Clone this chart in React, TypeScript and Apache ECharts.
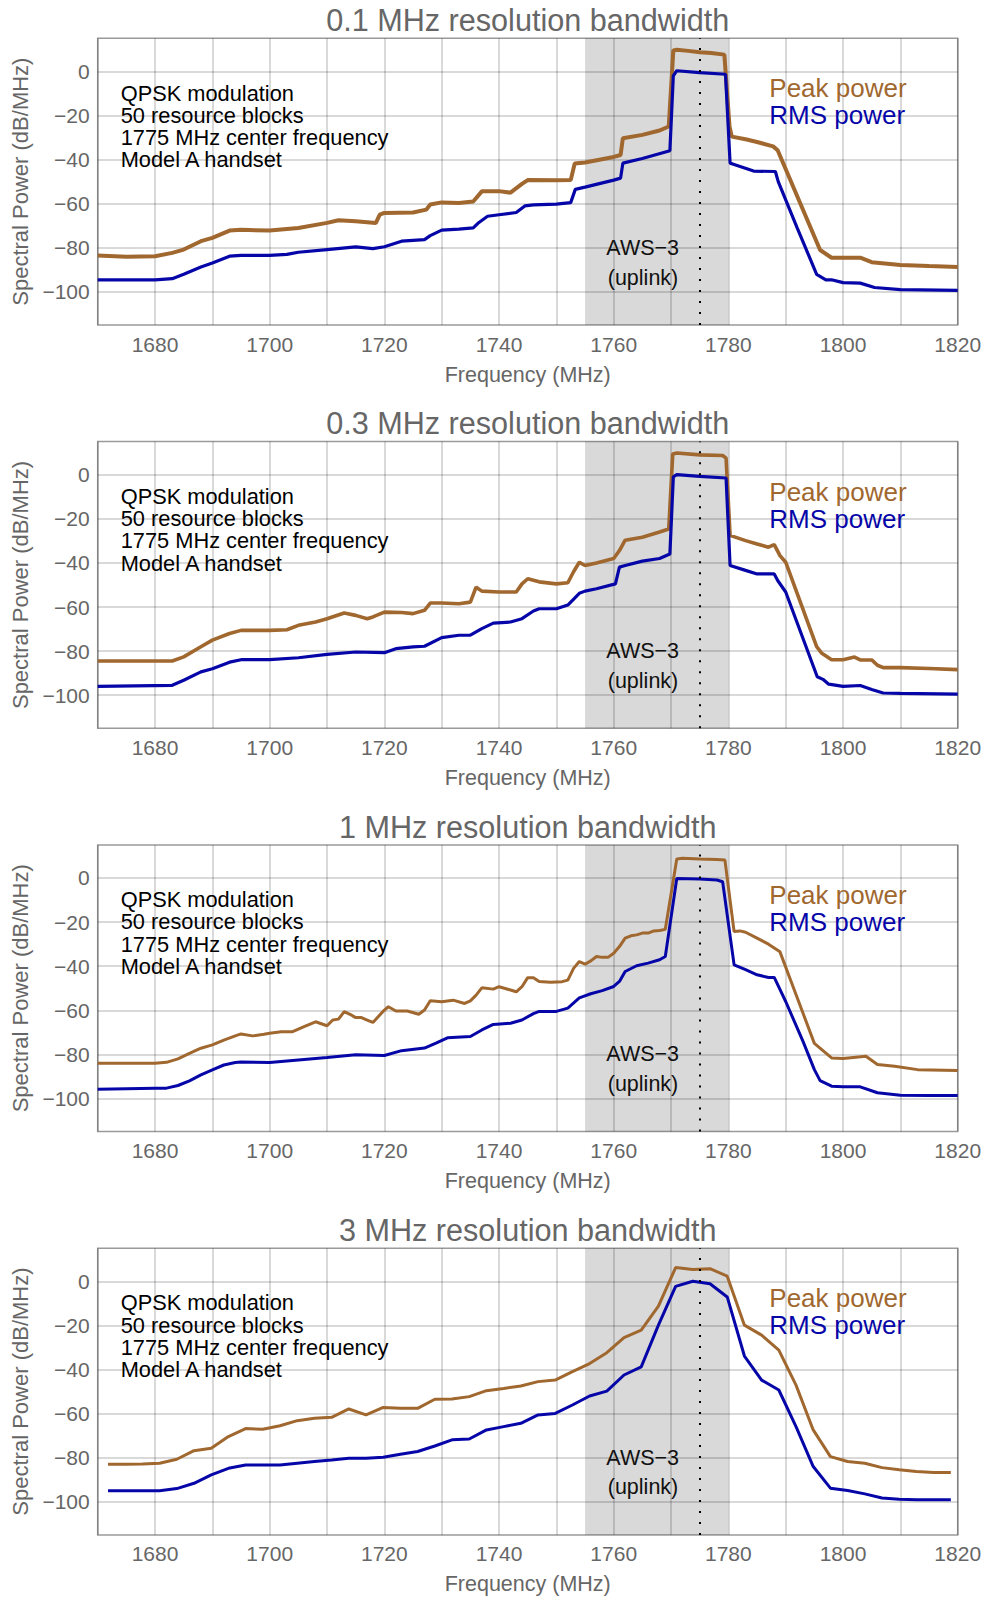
import React, { useEffect, useRef } from "react";
import * as echarts from "echarts";

const FONT = "'Liberation Sans', Arial, sans-serif";
const PEAK_COLOR = "#A0672F";
const RMS_COLOR = "#0606A8";

const TITLES = [
  "0.1 MHz resolution bandwidth",
  "0.3 MHz resolution bandwidth",
  "1 MHz resolution bandwidth",
  "3 MHz resolution bandwidth",
];
const INFO_LINES = ["QPSK modulation", "50 resource blocks", "1775 MHz center frequency", "Model A handset"];
const X_NAME = "Frequency (MHz)";
const Y_NAME = "Spectral Power (dB/MHz)";
const Y_GRID = [0, -20, -40, -60, -80, -100];
const BAND = [1755, 1780];
const CENTER_FREQ = 1775;

// Panel 1: 0.1 MHz RBW  [frequency MHz, dB/MHz]
const p1Peak = [
  [1670, -83.5], [1675, -84], [1680, -83.8], [1683, -82.3], [1685, -80.8], [1688, -77], [1690, -75.5],
  [1693, -72.2], [1695, -71.8], [1700, -72.2], [1705, -71], [1710, -68.7], [1712, -67.5], [1715, -68],
  [1718.5, -68.8], [1719.2, -65], [1720, -64.2], [1725, -64], [1727.3, -62.7], [1728, -60.4], [1730, -59.4],
  [1733, -59.7], [1735.5, -59], [1737, -54.4], [1740, -54.3], [1742, -55], [1744, -51], [1745, -49.3],
  [1750, -49.4], [1752.5, -49.3], [1753.2, -41.8], [1755, -41.3], [1760, -38.8], [1761.2, -37.9],
  [1761.6, -30.3], [1765, -28.8], [1768, -26.8], [1769.6, -25], [1770.4, 9.5], [1771, 9.8], [1773, 9.3],
  [1775, 8.7], [1777, 8.3], [1779.3, 7.6], [1780.2, -25], [1780.6, -29.6], [1783, -30.8], [1785, -32],
  [1787.8, -34], [1788.6, -35.8], [1796, -81], [1798, -84.5], [1800, -84.5], [1803, -84.5], [1805, -86.5],
  [1810, -87.8], [1815, -88.3], [1820, -88.7],
];
const p1Rms = [
  [1670, -94.5], [1680, -94.5], [1683, -94], [1685, -92], [1688, -88.7], [1690, -86.9], [1693, -83.8],
  [1695, -83.4], [1700, -83.4], [1703, -83], [1705, -82], [1710, -80.8], [1715, -79.6], [1718, -80.4],
  [1720, -79.5], [1723, -77], [1727, -76.3], [1728, -74.5], [1730, -72], [1733, -71.5], [1735.5, -71],
  [1736.5, -68.5], [1738, -65.7], [1740, -65], [1743, -64], [1744.5, -61], [1746, -60.5], [1750, -60.2],
  [1752.5, -59.5], [1753.3, -53.5], [1755, -52.5], [1760, -49.3], [1761.2, -48.4], [1761.6, -41.6],
  [1765, -39.5], [1769.8, -36], [1770.4, -2], [1771, 0.3], [1775, -0.6], [1779.5, -1.3], [1780.3, -41.6],
  [1781, -42.2], [1784.4, -45.2], [1788.2, -45.4], [1788.7, -50], [1792, -71], [1795.4, -92],
  [1797, -94.5], [1798, -94.5], [1800, -95.8], [1803, -96], [1805.5, -98], [1810, -99], [1820, -99.3],
];

// Panel 2: 0.3 MHz RBW
const p2Peak = [
  [1670, -84.5], [1683, -84.5], [1685, -82.6], [1688, -78], [1690, -75], [1693, -72], [1695, -70.6],
  [1700, -70.6], [1703, -70.3], [1705, -68.3], [1708, -66.8], [1710, -65.3], [1713, -62.7], [1715, -63.8],
  [1717, -65.3], [1718, -64.5], [1720, -62.3], [1723, -62.5], [1725, -63], [1727, -61.5], [1728, -58.2],
  [1730, -58.2], [1733, -58.5], [1735, -57.8], [1736, -51], [1737, -52.8], [1740, -53.2], [1743, -53.2],
  [1744, -49.5], [1745, -47.2], [1747, -48.6], [1750, -49.5], [1752, -49], [1753, -44], [1754, -39.7],
  [1755, -41.2], [1757, -40], [1760, -38], [1761, -34.4], [1762, -29.7], [1765, -28.4], [1768, -26],
  [1769.6, -24.6], [1770.3, 9.4], [1771, 9.8], [1775, 9], [1779, 8.7], [1779.6, 7.5], [1780.3, -27.5],
  [1783, -29.9], [1785, -31.4], [1787, -32.9], [1788, -31.7], [1789, -36.7], [1790, -39.7],
  [1795.4, -78], [1796.3, -81], [1798, -83.9], [1800, -83.9], [1802, -82.7], [1803, -84], [1805, -84],
  [1806, -86.4], [1807, -87.5], [1810, -87.5], [1815, -87.9], [1820, -88.4],
];
const p2Rms = [
  [1670, -96], [1683, -95.5], [1685, -93.2], [1688, -89.4], [1690, -88], [1693, -85], [1695, -83.9],
  [1700, -83.9], [1705, -83], [1710, -81.5], [1715, -80.4], [1720, -80.7], [1722, -78.9], [1725, -78.1],
  [1727, -77.8], [1730, -73.9], [1733, -72.8], [1735, -72.8], [1737, -69.8], [1739, -67.3], [1742, -66.8],
  [1744, -65.3], [1746, -61.8], [1747, -60.8], [1750, -60.8], [1752, -59.1], [1754, -53.8], [1755, -52.8],
  [1757, -51.7], [1760.3, -49.5], [1761, -41.9], [1762, -41.2], [1765, -39.2], [1768, -38],
  [1769.8, -36], [1770.4, -1], [1771, 0], [1775, -0.8], [1779.6, -1.5], [1780.3, -41.2], [1783, -43.4],
  [1785, -45], [1788, -45], [1788.6, -48], [1790, -53.2], [1795.5, -91.6], [1796.5, -92.8],
  [1797.5, -95], [1800, -96], [1803, -95.6], [1805, -97.4], [1807, -99], [1810, -99.2], [1820, -99.5],
];

// Panel 3: 1 MHz RBW
const p3Peak = [
  [1670, -84], [1680, -84], [1682, -83.6], [1684, -82], [1686, -79.5], [1688, -77.2], [1690, -75.7],
  [1692, -73.5], [1694, -71.6], [1695, -70.7], [1697, -71.6], [1699, -70.9], [1700, -70.4], [1702, -69.7],
  [1704, -69.7], [1706, -67.4], [1708, -65.2], [1710, -67], [1711, -64.4], [1712, -64], [1713, -60.6],
  [1714, -61.8], [1715, -63.3], [1716, -63.3], [1717, -64.4], [1718, -65.5], [1720, -59.9], [1720.7, -58.4],
  [1722, -60.3], [1724, -60.3], [1726, -61.8], [1727, -59.9], [1728, -55.7], [1730, -56.1], [1732, -55.4],
  [1734, -56.9], [1735, -55.7], [1736, -53.1], [1737, -49.8], [1739, -50.4], [1740, -49.3], [1742, -50.8],
  [1743, -51.6], [1744, -49.3], [1745, -45.2], [1746, -45.2], [1747, -46.9], [1749, -47.3], [1751, -47],
  [1752, -46.3], [1753, -41], [1754, -37.9], [1755, -39.1], [1756, -37.6], [1757, -35.6], [1758, -36],
  [1759, -36], [1760, -34.1], [1761, -31.1], [1762, -27.3], [1763, -26.2], [1764, -25.8], [1765, -25],
  [1766, -25], [1767, -24], [1768, -23.8], [1769, -23.3], [1771, 8.6], [1772, 8.9], [1775, 8.6],
  [1778, 8.4], [1779.4, 8.1], [1781, -24.3], [1782, -24], [1783, -24.6], [1785, -27.3], [1787, -30],
  [1789, -33.5], [1795, -75], [1798, -81.6], [1800, -81.9], [1804, -80.8], [1806, -84.6], [1809, -85.4],
  [1813, -86.9], [1820, -87.3],
];
const p3Rms = [
  [1670, -95.8], [1680, -95.3], [1682, -95.3], [1684, -94.1], [1686, -92], [1688, -89.3], [1690, -87],
  [1692, -84.8], [1694, -83.7], [1695, -83.4], [1700, -83.7], [1705, -82.5], [1710, -81.4], [1715, -80.2],
  [1720, -80.5], [1723, -78.3], [1727, -77.1], [1729, -74.9], [1731, -72.5], [1735, -71.9], [1737, -68.9],
  [1739, -66.4], [1742, -65.9], [1744, -64.4], [1746, -61.5], [1747, -60.5], [1750, -60.5], [1752, -59],
  [1754, -54.4], [1756, -52.5], [1758, -51.1], [1760, -49.2], [1761, -46.9], [1762, -42.4], [1764, -39.8],
  [1766, -38.6], [1768, -37.1], [1769, -35.6], [1771, -0.2], [1775, -0.5], [1778, -0.9], [1779, -1.7],
  [1781, -39.4], [1783, -41.6], [1785, -43.9], [1787, -45.1], [1788, -45.1], [1790, -56], [1793, -74],
  [1795, -86.9], [1796, -91.9], [1798, -94.4], [1800, -94.7], [1803, -94.7], [1806, -97.4], [1810, -98.5],
  [1815, -98.6], [1820, -98.6],
];

// Panel 4: 3 MHz RBW, sampled every 3 MHz
const p4Freq = [
  1671.8, 1674.8, 1677.8, 1680.8, 1683.8, 1686.8, 1689.8, 1692.8, 1695.8, 1698.8,
  1701.8, 1704.8, 1707.8, 1710.8, 1713.8, 1716.8, 1719.8, 1722.8, 1725.8, 1728.8,
  1731.8, 1734.8, 1737.8, 1740.8, 1743.8, 1746.8, 1749.8, 1752.8, 1755.8, 1758.8,
  1761.8, 1764.8, 1767.8, 1770.8, 1773.8, 1776.8, 1779.8, 1782.8, 1785.8, 1788.8,
  1791.8, 1794.8, 1797.8, 1800.8, 1803.8, 1806.8, 1809.8, 1812.8, 1815.8, 1818.8,
];
const p4PeakDb = [
  -83, -83, -82.8, -82.5, -80.7, -76.8, -75.7, -70.4, -66.8, -67.1,
  -65.5, -63.2, -62.1, -61.7, -57.9, -60.6, -57.2, -57.6, -57.6, -53.5,
  -53.4, -52.3, -49.6, -48.6, -47.5, -45.5, -44.8, -41, -37.3, -32.4,
  -25.5, -22.2, -11.3, 6.2, 5.3, 5.7, 2.3, -19.9, -24.4, -31.2,
  -47.1, -67.4, -79.5, -81.7, -82.5, -84.5, -85.5, -86.3, -86.7, -86.7,
];
const p4RmsDb = [
  -95, -95, -95, -95, -94, -91.6, -87.8, -84.8, -83.3, -83.3,
  -83.3, -82.5, -81.7, -81, -80.2, -80.2, -79.8, -78.4, -77.2, -74.7,
  -71.9, -71.5, -67.4, -65.9, -64.4, -60.6, -59.9, -56.1, -52, -49.8,
  -42.5, -38.8, -19.9, -2.3, 0, -1.1, -7.1, -33.9, -44.8, -49.3,
  -65.9, -84, -93.8, -94.9, -96.4, -98.3, -98.8, -99.1, -99.1, -99.1,
];
const p4Peak = p4Freq.map((f, i) => [f, p4PeakDb[i]]);
const p4Rms = p4Freq.map((f, i) => [f, p4RmsDb[i]]);

const PANELS = [
  { peak: p1Peak, rms: p1Rms, peakW: 4, rmsW: 3.2 },
  { peak: p2Peak, rms: p2Rms, peakW: 3.6, rmsW: 3.2 },
  { peak: p3Peak, rms: p3Rms, peakW: 3, rmsW: 3 },
  { peak: p4Peak, rms: p4Rms, peakW: 3, rmsW: 3 },
];

const GRID_LEFT = 97.7;
const GRID_W = 860;
const GRID_H = 286.7;
const FIRST_TOP = 38.3;
const STEP = 403.3;

function buildOption() {
  const grid: any[] = [];
  const xAxis: any[] = [];
  const yAxis: any[] = [];
  const series: any[] = [];
  const title: any[] = [];
  const graphic: any[] = [];

  PANELS.forEach((p, k) => {
    const dy = STEP * k;
    grid.push({
      left: GRID_LEFT, top: FIRST_TOP + dy, width: GRID_W, height: GRID_H,
      show: true, borderColor: "#9a9a9a", borderWidth: 1.5, backgroundColor: "transparent",
    });
    title.push({
      text: TITLES[k], left: GRID_LEFT + GRID_W / 2, top: 4.4 + dy, textAlign: "center", padding: 0,
      textStyle: { fontFamily: FONT, fontSize: 30.6, fontWeight: "normal", color: "#666" },
    });
    xAxis.push({
      type: "value", gridIndex: k, min: 1670, max: 1820, interval: 10,
      name: X_NAME, nameLocation: "middle", nameGap: 38.5,
      nameTextStyle: { fontFamily: FONT, fontSize: 21.5, color: "#666" },
      axisLine: { show: false }, axisTick: { show: false },
      axisLabel: {
        fontFamily: FONT, fontSize: 21, color: "#666", margin: 8.5, showMaxLabel: true,
        formatter: (v: number) => (v % 20 === 0 && v >= 1680 ? String(v) : ""),
      },
      splitLine: { show: true, lineStyle: { color: "rgba(0,0,0,0.2)", width: 1.5 } },
    });
    yAxis.push({
      type: "value", gridIndex: k, min: -115, max: 15, interval: 5,
      name: Y_NAME, nameLocation: "middle", nameGap: 65,
      nameTextStyle: { fontFamily: FONT, fontSize: 22, color: "#666" },
      axisLine: { show: false }, axisTick: { show: false },
      axisLabel: {
        fontFamily: FONT, fontSize: 21, color: "#666", margin: 8,
        formatter: (v: number) => (Y_GRID.indexOf(v) >= 0 ? String(v).replace("-", "\u2212") : ""),
      },
      splitLine: { show: false },
    });
    // shaded AWS-3 band + horizontal grid lines
    series.push({
      type: "line", xAxisIndex: k, yAxisIndex: k, data: [], z: 1, silent: true,
      markArea: {
        silent: true, z: 1,
        itemStyle: { color: "rgba(0,0,0,0.15)" },
        data: [[{ xAxis: BAND[0] }, { xAxis: BAND[1] }]],
      },
      markLine: {
        silent: true, z: 1, symbol: ["none", "none"], label: { show: false },
        lineStyle: { color: "rgba(0,0,0,0.2)", width: 1.5, type: "solid" },
        data: Y_GRID.map((v) => ({ yAxis: v })),
      },
    });
    series.push({
      type: "line", name: "Peak power", xAxisIndex: k, yAxisIndex: k, data: p.peak, z: 3,
      showSymbol: false, symbol: "none", lineStyle: { color: PEAK_COLOR, width: p.peakW }, itemStyle: { color: PEAK_COLOR },
    });
    series.push({
      type: "line", name: "RMS power", xAxisIndex: k, yAxisIndex: k, data: p.rms, z: 3,
      showSymbol: false, symbol: "none", lineStyle: { color: RMS_COLOR, width: p.rmsW }, itemStyle: { color: RMS_COLOR },
    });
    // dotted center frequency line
    series.push({
      type: "line", xAxisIndex: k, yAxisIndex: k, data: [], z: 4, silent: true,
      markLine: {
        silent: true, z: 4, symbol: ["none", "none"], label: { show: false },
        lineStyle: { color: "#000", width: 2, type: [2, 9] },
        data: [{ xAxis: CENTER_FREQ }],
      },
    });

    graphic.push({
      type: "text", x: 120.7, y: 81.85 + dy, silent: true, z: 10,
      style: {
        text: INFO_LINES.join("\n"), font: `21.8px ${FONT}`, fill: "#000",
        lineHeight: 22.3, verticalAlign: "top", align: "left",
      },
    });
    graphic.push({
      type: "text", x: 769.3, y: 88.3 + dy, silent: true, z: 10,
      style: { text: "Peak power", font: `26px ${FONT}`, fill: PEAK_COLOR, verticalAlign: "middle", align: "left" },
    });
    graphic.push({
      type: "text", x: 769.3, y: 115.3 + dy, silent: true, z: 10,
      style: { text: "RMS power", font: `26px ${FONT}`, fill: RMS_COLOR, verticalAlign: "middle", align: "left" },
    });
    graphic.push({
      type: "text", x: 642.7, y: 247.8 + dy, silent: true, z: 10,
      style: { text: "AWS\u22123", font: `21.5px ${FONT}`, fill: "#111", verticalAlign: "middle", align: "center" },
    });
    graphic.push({
      type: "text", x: 643, y: 277.5 + dy, silent: true, z: 10,
      style: { text: "(uplink)", font: `21.5px ${FONT}`, fill: "#111", verticalAlign: "middle", align: "center" },
    });
  });

  return {
    animation: false,
    backgroundColor: "#fff",
    textStyle: { fontFamily: FONT },
    title, grid, xAxis, yAxis, series, graphic,
  };
}

export default function App() {
  const ref = useRef<HTMLDivElement>(null);
  useEffect(() => {
    document.body.style.margin = "0";
    if (!ref.current) return;
    const chart = echarts.init(ref.current, null, { renderer: "svg" });
    chart.setOption(buildOption() as any);
    return () => chart.dispose();
  }, []);
  return <div ref={ref} style={{ width: 987, height: 1600 }} />;
}
